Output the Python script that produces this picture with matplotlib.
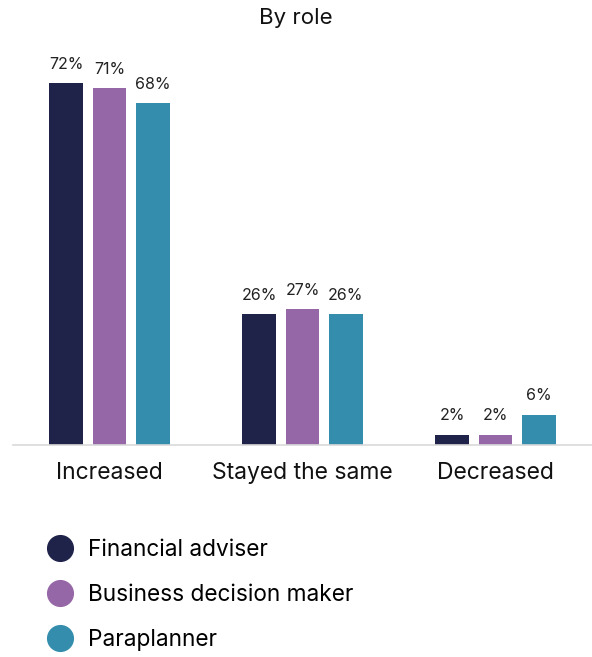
import matplotlib.pyplot as plt
from matplotlib.lines import Line2D
import numpy as np

plt.rcParams['font.family'] = ['Inter', 'DejaVu Sans']

categories = ['Increased', 'Stayed the same', 'Decreased']
roles = ['Financial adviser', 'Business decision maker', 'Paraplanner']
adviser = [72, 26, 2]
decision_maker = [71, 27, 2]
paraplanner = [68, 26, 6]
colors = ['#1f2349', '#9667a6', '#348dac']


def main():
    fig = plt.figure(figsize=(5.92, 6.57), dpi=100)
    # axes placed in pixel terms: baseline at y=445, spanning x 13..592
    ax = fig.add_axes([13 / 592, 212 / 657, 579 / 592, 402 / 657])

    x = np.arange(len(categories))
    width = 0.176
    offset = 0.223
    series = [adviser, decision_maker, paraplanner]
    for i, (vals, col) in enumerate(zip(series, colors)):
        bars = ax.bar(x + (i - 1) * offset, vals, width, color=col, label=roles[i])
        for b, v in zip(bars, vals):
            ax.text(b.get_x() + b.get_width() / 2, v + 2.3, f'{v}%',
                    ha='center', va='bottom', fontsize=11.5, color='#222222')

    ax.set_xlim(-0.5, 2.5)
    ax.set_ylim(0, 80)
    ax.set_yticks([])
    ax.set_xticks(x)
    ax.set_xticklabels(categories, fontsize=16.5, color='#111111')
    ax.tick_params(axis='x', length=0, pad=12)
    for s in ['top', 'right', 'left']:
        ax.spines[s].set_visible(False)
    ax.spines['bottom'].set_color('#d9d9d9')
    ax.spines['bottom'].set_linewidth(1.2)

    fig.text(0.5, 1 - 18 / 657, 'By role', ha='center', va='center', fontsize=16, color='#111111')

    handles = [Line2D([], [], linestyle='none', marker='o', markersize=18.5,
                      markerfacecolor=c, markeredgecolor=c) for c in colors]
    fig.legend(handles, roles, loc='upper left', bbox_to_anchor=(34 / 592, 1 - 528 / 657),
               frameon=False, fontsize=16.3, labelspacing=1.0, handletextpad=0.58,
               handlelength=1.3, borderpad=0)

    fig.savefig('out.png', dpi=100)


if __name__ == '__main__':
    main()
